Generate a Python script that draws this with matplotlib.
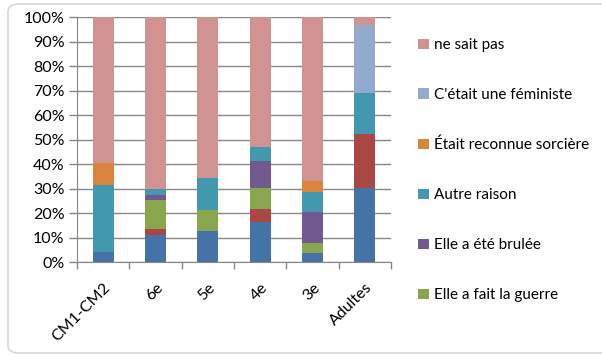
import matplotlib
matplotlib.use("Agg")
import matplotlib.pyplot as plt
from matplotlib.patches import FancyBboxPatch
import numpy as np

categories = ["CM1-CM2", "6e", "5e", "4e", "3e", "Adultes"]

# series from bottom to top (first two are not visible in the cropped legend)
s_blue = [4.2, 11.0, 12.8, 16.6, 3.8, 30.3]
s_red = [0.0, 2.6, 0.0, 5.2, 0.0, 22.1]
guerre = [0.0, 11.8, 8.5, 8.5, 4.1, 0.0]
brulee = [0.0, 2.1, 0.0, 11.0, 12.6, 0.0]
autre = [27.3, 2.4, 13.1, 5.8, 8.2, 16.7]
sorciere = [9.0, 0.0, 0.0, 0.0, 4.5, 0.0]
feministe = [0.0, 0.0, 0.0, 0.0, 0.0, 27.8]
ne_sait_pas = [59.5, 70.1, 65.6, 52.9, 66.8, 3.1]

labels = [None, None, "Elle a fait la guerre", "Elle a été brulée", "Autre raison",
          "Était reconnue sorcière", "C'était une féministe", "ne sait pas"]
series = [s_blue, s_red, guerre, brulee, autre, sorciere, feministe, ne_sait_pas]
colors = ["#4572A7", "#AA4643", "#89A54E", "#71588F", "#4198AF", "#DB843D", "#93A9CF", "#D19392"]

plt.rcParams['font.family'] = ['Lato', 'DejaVu Sans']

fig = plt.figure(figsize=(6.02, 3.56), dpi=100)
fig.patch.set_facecolor("white")

# chart-area border (rounded)
border = FancyBboxPatch((8/602, 3/356), 640/602, 349/356,
                        boxstyle="round,pad=0,rounding_size=0.02",
                        transform=fig.transFigure, facecolor="none",
                        edgecolor="#d0d0d0", linewidth=1.0, zorder=0)
fig.patches.append(border)

ax = fig.add_axes([77/602, 1 - 262.3/356, (391 - 77)/602, (262.3 - 17.3)/356])

data = np.array(series, dtype=float)
totals = data.sum(axis=0)
pct = data / totals * 100
x = np.arange(len(categories))
bottom = np.zeros(len(categories))
handles = []
for vals, col, lab in zip(pct, colors, labels):
    b = ax.bar(x, vals, 0.4, bottom=bottom, color=col, label=lab if lab else "_nolegend_", zorder=3)
    bottom += vals
    if lab:
        handles.append((b, lab))

ax.set_xlim(-0.5, len(categories) - 0.5)
ax.set_ylim(0, 100)
ax.set_yticks(np.arange(0, 101, 10))
ax.set_yticklabels([f"{v}%" for v in range(0, 101, 10)], fontsize=11.5)
ax.yaxis.grid(True, color="#868686", linewidth=1.0, zorder=0)
ax.tick_params(axis="y", length=6, color="#868686", width=1.0, pad=3)

ax.set_xticks(x)
ax.set_xticklabels(categories, rotation=45, ha="right", rotation_mode="anchor", fontsize=11.5)
ax.tick_params(axis="x", which="major", length=0, pad=13)
ax.set_xticks(np.arange(-0.5, len(categories), 1), minor=True)
ax.tick_params(axis="x", which="minor", length=5, color="#868686", width=1.0)

for s in ["top", "right"]:
    ax.spines[s].set_visible(False)
ax.spines["left"].set_color("#868686")
ax.spines["bottom"].set_color("#868686")
ax.set_axisbelow(True)

h = [hh for hh, _ in handles][::-1]
l = [ll for _, ll in handles][::-1]
leg = fig.legend(h, l, loc="upper left", bbox_to_anchor=(412/602, 1 - 32/356),
                 frameon=False, fontsize=11, handlelength=0.68, handleheight=0.68,
                 handletextpad=0.35, labelspacing=2.35, borderaxespad=0)

fig.savefig("out.png", dpi=100, facecolor="white")
